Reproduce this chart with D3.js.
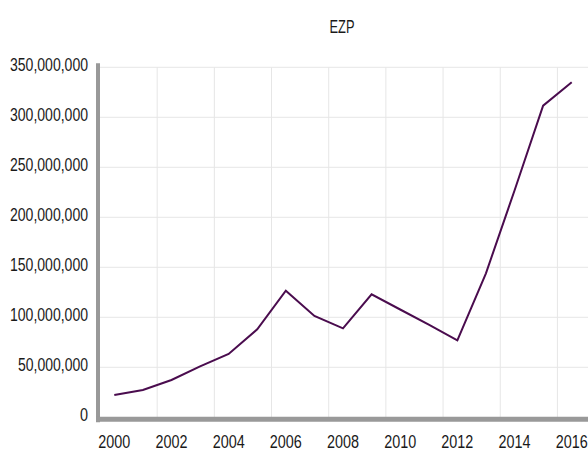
<!DOCTYPE html>
<html>
<head>
<meta charset="utf-8">
<script src="https://cdn.jsdelivr.net/npm/d3@7"></script>
<style>
    body { margin: 0; background: #fff; }
    text { font-family: "Liberation Sans", Arial, sans-serif; fill: #1a1a1a; }
</style>
</head>
<body>
<div id="chart"></div>
<script>
// data
const years = ["2000", "2001", "2002", "2003", "2004", "2005", "2006", "2007", "2008",
    "2009", "2010", "2011", "2012", "2013", "2014", "2015", "2016"];
const values = [22300000, 27300000, 37300000, 51000000, 63300000, 88000000, 126600000,
    101300000, 89000000, 123000000, 107800000, 92600000, 77000000, 144000000,
    226800000, 311600000, 335000000];
const yTicks = [0, 50000000, 100000000, 150000000, 200000000, 250000000, 300000000, 350000000];
const xLabels = ["2000", "2002", "2004", "2006", "2008", "2010", "2012", "2014", "2016"];
const title = "EZP";

const width = 588, height = 459;
const margin = { left: 100, right: 2, top: 67.3, bottom: 41.7 };

// narrow look of the original font: squeeze glyphs to the measured width
function narrow(s) {
    let w = 0;
    for (const c of s) w += (c === "," ? 3 : 8);
    return w;
}

const svg = d3.select("#chart")
    .append("svg")
    .attr("width", width)
    .attr("height", height);

const x = d3.scaleBand()
    .domain(years)
    .range([margin.left, width - margin.right])
    .padding(0);

const y = d3.scaleLinear()
    .domain([0, 350000000])
    .range([height - margin.bottom, margin.top]);

// 网格
const grid = svg.append("g");
grid.selectAll("line.h")
    .data(yTicks.slice(1))
    .enter()
    .append("line")
    .attr("x1", margin.left)
    .attr("x2", width)
    .attr("y1", d => y(d))
    .attr("y2", d => y(d))
    .attr("stroke", "#e6e6e6")
    .attr("stroke-width", 1);

grid.selectAll("line.v")
    .data(xLabels.slice(1))
    .enter()
    .append("line")
    .attr("x1", d => x(d))
    .attr("x2", d => x(d))
    .attr("y1", y(350000000))
    .attr("y2", y(0))
    .attr("stroke", "#e6e6e6")
    .attr("stroke-width", 1);

// axes lines
svg.append("line")
    .attr("x1", margin.left - 2)
    .attr("x2", margin.left - 2)
    .attr("y1", margin.top - 4)
    .attr("y2", y(0) + 5)
    .attr("stroke", "#999")
    .attr("stroke-width", 4);

svg.append("line")
    .attr("x1", margin.left - 4)
    .attr("x2", width)
    .attr("y1", y(0) + 2)
    .attr("y2", y(0) + 2)
    .attr("stroke", "#999")
    .attr("stroke-width", 5);

// y labels
svg.append("g")
    .selectAll("text")
    .data(yTicks)
    .enter()
    .append("text")
    .attr("x", 88)
    .attr("y", d => y(d) + 4)
    .attr("text-anchor", "end")
    .attr("font-size", 18)
    .attr("textLength", d => narrow(d3.format(",")(d)))
    .attr("lengthAdjust", "spacingAndGlyphs")
    .text(d => d3.format(",")(d));

// x labels
svg.append("g")
    .selectAll("text")
    .data(xLabels)
    .enter()
    .append("text")
    .attr("x", d => x(d) + x.bandwidth() / 2)
    .attr("y", 448)
    .attr("text-anchor", "middle")
    .attr("font-size", 18)
    .attr("textLength", d => narrow(d))
    .attr("lengthAdjust", "spacingAndGlyphs")
    .text(d => d);

// 折线
const line = d3.line()
    .x((d, i) => x(years[i]) + x.bandwidth() / 2)
    .y(d => y(d));

svg.append("path")
    .datum(values)
    .attr("fill", "none")
    .attr("stroke", "#4a0c4e")
    .attr("stroke-width", 2)
    .attr("stroke-linejoin", "miter")
    .attr("d", line);

svg.append("text")
    .attr("x", 342)
    .attr("y", 33)
    .attr("text-anchor", "middle")
    .attr("font-size", 18)
    .attr("textLength", 25)
    .attr("lengthAdjust", "spacingAndGlyphs")
    .text(title);
</script>
</body>
</html>
